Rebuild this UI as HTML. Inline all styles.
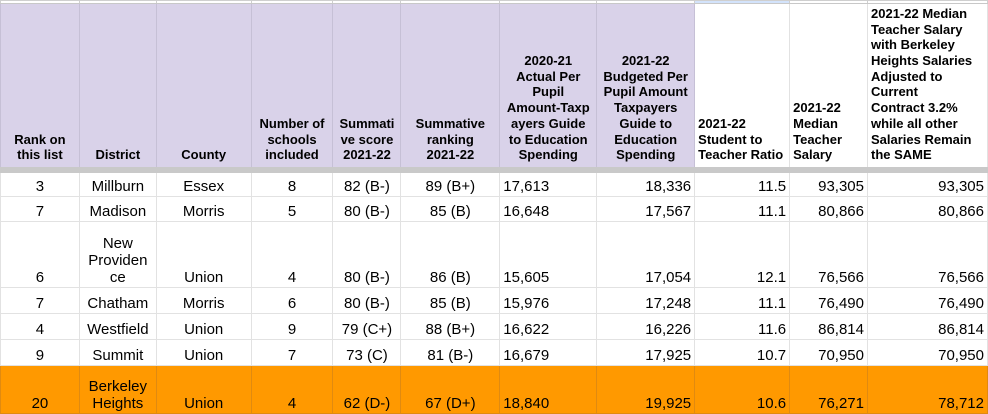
<!DOCTYPE html>
<html><head><meta charset="utf-8"><style>
body{margin:0;background:#fff;width:988px;height:414px;overflow:hidden;font-family:"Liberation Sans",Arial,sans-serif}
table{position:absolute;left:0;top:0;border-collapse:collapse;table-layout:fixed}
td{border:1px solid #e2e2e2;padding:0 3px;font-size:15px;color:#000;vertical-align:bottom;overflow:hidden;line-height:17px;padding-bottom:1px;text-align:center}
tr.top td{height:2px;padding:0;border-color:#cfcfcf;border-bottom:1px solid #c8c8c8}
tr.h td{background:#d9d2e9;font-weight:bold;font-size:13px;line-height:15.7px;height:159px;padding:0 1px 4px 1px;white-space:nowrap;border-color:#c6c0d6;border-bottom:6px solid #c9c9c9}
tr.h td.w{background:#fff;text-align:left;padding-left:3px;border-color:#e2e2e2;border-bottom:6px solid #c9c9c9}
td.r{text-align:right}
td.l{text-align:left}
tr.o td{background:#ff9900;border-color:#e08a10}
</style></head><body>
<table>
<colgroup><col style="width:79px"><col style="width:77px"><col style="width:95px"><col style="width:82px"><col style="width:68px"><col style="width:99px"><col style="width:97px"><col style="width:98px"><col style="width:95px"><col style="width:78px"><col style="width:120px"></colgroup>
<tr class="top"><td></td><td></td><td></td><td></td><td></td><td></td><td></td><td></td><td style="background:#d3e3fb"></td><td></td><td></td></tr>
<tr class="h"><td>Rank on<br>this list</td><td>District</td><td>County</td><td>Number of<br>schools<br>included</td><td>Summati<br>ve score<br>2021-22</td><td>Summative<br>ranking<br>2021-22</td><td>2020-21<br>Actual Per<br>Pupil<br>Amount-Taxp<br>ayers Guide<br>to Education<br>Spending</td><td>2021-22<br>Budgeted Per<br>Pupil Amount<br>Taxpayers<br>Guide to<br>Education<br>Spending</td><td class="w">2021-22<br>Student to<br>Teacher Ratio</td><td class="w">2021-22<br>Median<br>Teacher<br>Salary</td><td class="w">2021-22 Median<br>Teacher Salary<br>with Berkeley<br>Heights Salaries<br>Adjusted to<br>Current<br>Contract 3.2%<br>while all other<br>Salaries Remain<br>the SAME</td></tr>
<tr style="height:26px"><td>3</td><td>Millburn</td><td>Essex</td><td>8</td><td>82 (B-)</td><td>89 (B+)</td><td class="l">17,613</td><td class="r">18,336</td><td class="r">11.5</td><td class="r">93,305</td><td class="r">93,305</td></tr>
<tr style="height:25px"><td>7</td><td>Madison</td><td>Morris</td><td>5</td><td>80 (B-)</td><td>85 (B)</td><td class="l">16,648</td><td class="r">17,567</td><td class="r">11.1</td><td class="r">80,866</td><td class="r">80,866</td></tr>
<tr style="height:66px"><td>6</td><td>New<br>Providen<br>ce</td><td>Union</td><td>4</td><td>80 (B-)</td><td>86 (B)</td><td class="l">15,605</td><td class="r">17,054</td><td class="r">12.1</td><td class="r">76,566</td><td class="r">76,566</td></tr>
<tr style="height:26px"><td>7</td><td>Chatham</td><td>Morris</td><td>6</td><td>80 (B-)</td><td>85 (B)</td><td class="l">15,976</td><td class="r">17,248</td><td class="r">11.1</td><td class="r">76,490</td><td class="r">76,490</td></tr>
<tr style="height:26px"><td>4</td><td>Westfield</td><td>Union</td><td>9</td><td>79 (C+)</td><td>88 (B+)</td><td class="l">16,622</td><td class="r">16,226</td><td class="r">11.6</td><td class="r">86,814</td><td class="r">86,814</td></tr>
<tr style="height:26px"><td>9</td><td>Summit</td><td>Union</td><td>7</td><td>73 (C)</td><td>81 (B-)</td><td class="l">16,679</td><td class="r">17,925</td><td class="r">10.7</td><td class="r">70,950</td><td class="r">70,950</td></tr>
<tr class="o" style="height:48px"><td>20</td><td>Berkeley<br>Heights</td><td>Union</td><td>4</td><td>62 (D-)</td><td>67 (D+)</td><td class="l">18,840</td><td class="r">19,925</td><td class="r">10.6</td><td class="r">76,271</td><td class="r">78,712</td></tr>
</table>
</body></html>
